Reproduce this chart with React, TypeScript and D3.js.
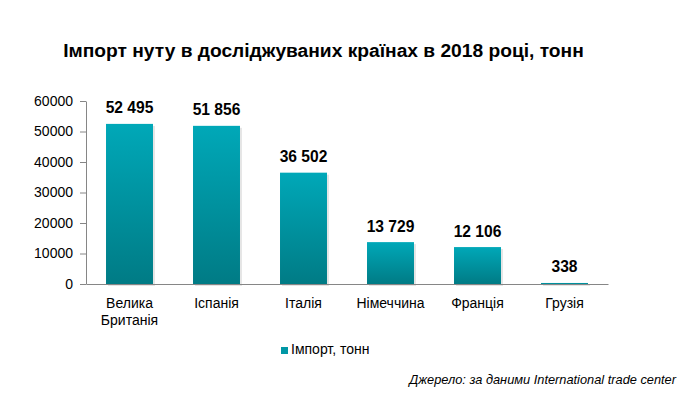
import { useEffect, useRef } from 'react';
import * as d3 from 'd3';

// країни та обсяги імпорту нуту, тонн
const countries = ['Велика Британія', 'Іспанія', 'Італія', 'Німеччина', 'Франція', 'Грузія'];
const countryLines = [['Велика', 'Британія'], ['Іспанія'], ['Італія'], ['Німеччина'], ['Франція'], ['Грузія']];
const values = [52495, 51856, 36502, 13729, 12106, 338];
const yTicks = [0, 10000, 20000, 30000, 40000, 50000, 60000];

const title = 'Імпорт нуту в досліджуваних країнах в 2018 році, тонн';
const legendLabel = 'Імпорт, тонн';
const source = 'Джерело: за даними International trade center';

export default function App() {
  const width = 686;
  const height = 399;
  const marginLeft = 86;
  const marginRight = 78;
  const marginTop = 101;
  const plotBottom = 284;
  const font = 'Arial, "Liberation Sans", sans-serif';

  const x = d3.scaleBand<string>()
    .domain(countries)
    .range([marginLeft, width - marginRight])
    .paddingInner(0.46)
    .paddingOuter(0.23);

  const y = d3.scaleLinear()
    .domain([0, 60000])
    .range([plotBottom, marginTop]);

  const gy = useRef<SVGGElement>(null);
  const gx = useRef<SVGGElement>(null);

  useEffect(() => {
    const g = d3.select(gy.current!);
    g.call(d3.axisLeft(y).tickValues(yTicks).tickFormat(d3.format('d')).tickSize(6).tickSizeOuter(0));
    g.select('.domain').attr('stroke', '#868686');
    g.selectAll('.tick line').attr('stroke', '#868686');
    g.selectAll('.tick text')
      .attr('font-family', font)
      .attr('font-size', 14)
      .attr('fill', '#000')
      .attr('x', -13);
  }, []);

  useEffect(() => {
    const g = d3.select(gx.current!);
    g.call(d3.axisBottom(x).tickSize(0).tickSizeOuter(0).tickFormat(() => ''));
    g.select('.domain').attr('stroke', '#868686');
  }, []);

  const fmt = (v: number) => d3.format(',')(v).replace(/,/g, ' ');

  return (
    <svg width={width} height={height} style={{ display: 'block', margin: '-8px' }}>
      <defs>
        <linearGradient id="barGrad" x1="0" y1="0" x2="0" y2="1">
          <stop offset="0%" stopColor="#00A8B8" />
          <stop offset="100%" stopColor="#007B85" />
        </linearGradient>
      </defs>
      <rect width={width} height={height} fill="#fff" />
      <text x={323.5} y={57} textAnchor="middle" fontFamily={font} fontWeight="bold" fontSize={19.2} fill="#000">
        {title}
      </text>

      {countries.map((c, i) => (
        <g key={c}>
          <rect x={x(c)! + 2} y={y(values[i]) + 2} width={x.bandwidth()} height={plotBottom - y(values[i])} fill="#000" opacity={0.1} />
          <rect x={x(c)} y={y(values[i])} width={x.bandwidth()} height={plotBottom - y(values[i])} fill="url(#barGrad)" />
          <text x={x(c)! + x.bandwidth() / 2} y={y(values[i]) - 10.5} textAnchor="middle" fontFamily={font} fontWeight="bold" fontSize={15.6} fill="#000">
            {fmt(values[i])}
          </text>
          {countryLines[i].map((line, j) => (
            <text key={j} x={x(c)! + x.bandwidth() / 2} y={308 + j * 17} textAnchor="middle" fontFamily={font} fontSize={14} fill="#000">
              {line}
            </text>
          ))}
        </g>
      ))}

      <g ref={gx} transform={`translate(0,${plotBottom})`} />
      <g ref={gy} transform={`translate(${marginLeft},0)`} />

      <rect x={281} y={347} width={7} height={7} fill="#0097A5" />
      <text x={291} y={353.5} fontFamily={font} fontSize={14} fill="#000">{legendLabel}</text>

      <text x={676} y={383.5} textAnchor="end" fontFamily={font} fontStyle="italic" fontSize={12.8} fill="#000">
        {source}
      </text>
    </svg>
  );
}
